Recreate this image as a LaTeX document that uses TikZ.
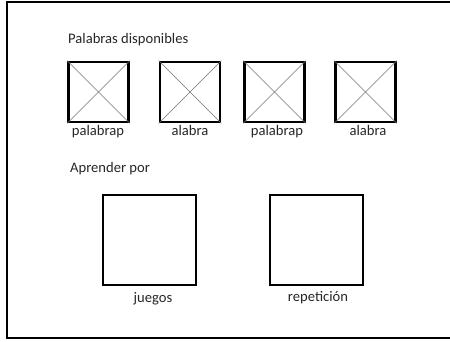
\documentclass[tikz,border=0pt]{standalone}
\usepackage{fontspec}
\setmainfont{Carlito}
\usetikzlibrary{positioning}
\tikzset
{
    wordbox/.style  = {rectangle, draw=black, line width=2.6pt, minimum width=60pt, minimum height=60pt, inner sep=0pt},
    modebox/.style  = {rectangle, draw=black, line width=2.2pt, minimum width=93pt, minimum height=90pt, inner sep=0pt},
    cross/.style    = {draw=black!55, line width=0.6pt},
    caption/.style  = {font=\fontsize{14.6}{16}\selectfont, text=black!85, inner sep=0pt, anchor=base},
    heading/.style  = {font=\fontsize{14.6}{16}\selectfont, text=black!85, inner sep=0pt, anchor=base west},
    frame/.style    = {draw=black, line width=2.2pt}
}

\begin{document}
\begin{tikzpicture}[x=1pt,y=-1pt]
\clip (0,0) rectangle (450,341);
\draw[frame] (470,2) -- (7,2) -- (7,338) -- (470,338);
\node [heading] at (68,43) (avail) {Palabras disponibles};
\node [wordbox] at (98.5,92) (w1) {};
\node [wordbox] at (190,92) (w2) {};
\node [wordbox] at (274.5,92) (w3) {};
\node [wordbox] at (365.5,92) (w4) {};
\node [caption] at (98,135) (l1) {palabrap};
\node [caption] at (190,135) (l2) {alabra};
\node [caption] at (277,135) (l3) {palabrap};
\node [caption] at (368,135) (l4) {alabra};
\draw[cross] (w1.north west) -- (w1.south east);
\draw[cross] (w1.north east) -- (w1.south west);
\draw[cross] (w2.north west) -- (w2.south east);
\draw[cross] (w2.north east) -- (w2.south west);
\draw[cross] (w3.north west) -- (w3.south east);
\draw[cross] (w3.north east) -- (w3.south west);
\draw[cross] (w4.north west) -- (w4.south east);
\draw[cross] (w4.north east) -- (w4.south west);
\node [heading] at (70,172) (learn) {Aprender por};
\node [modebox] at (149.5,240) (games) {};
\node [modebox] at (316.5,240) (repeat) {};
\node [caption] at (153,302) (lg) {juegos};
\node [caption] at (318,301) (lr) {repetición};
\end{tikzpicture}
\end{document}
